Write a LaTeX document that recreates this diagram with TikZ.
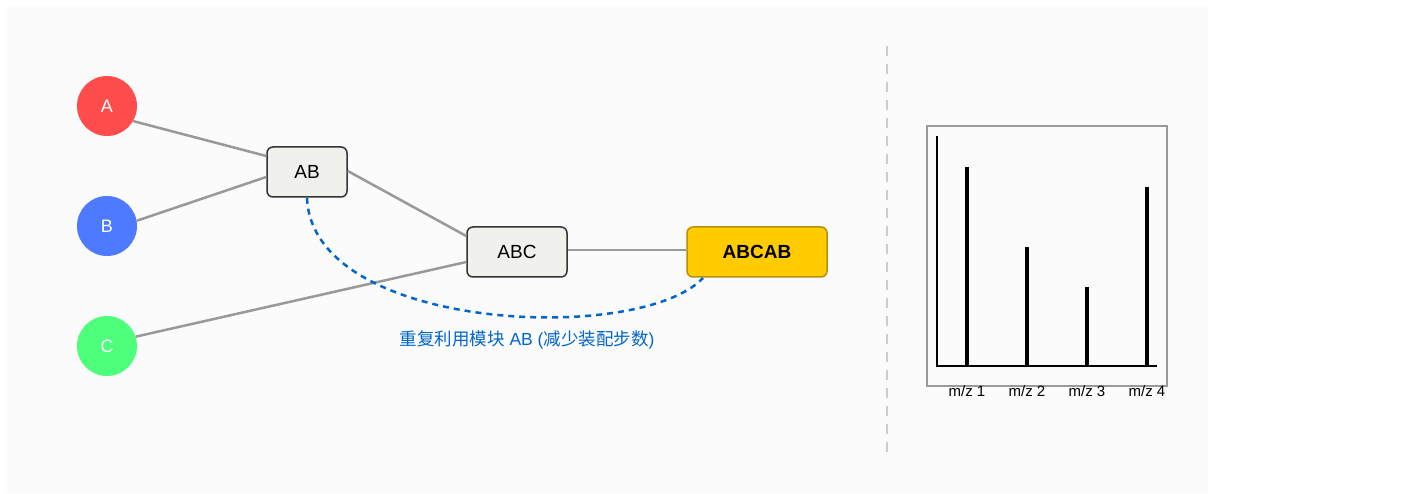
\documentclass[tikz,border=0pt]{standalone}
\usepackage{fontspec}
\setmainfont{Liberation Sans}
\newfontfamily\cjk{Noto Sans CJK SC}
\definecolor{bgc}{HTML}{FBFBFB}
\definecolor{redc}{HTML}{FF4D4D}
\definecolor{bluec}{HTML}{4D7AFF}
\definecolor{greenc}{HTML}{4DFF7A}
\definecolor{boxfill}{HTML}{F0F0EC}
\definecolor{boxdraw}{HTML}{333333}
\definecolor{goldc}{HTML}{FFCC00}
\definecolor{goldd}{HTML}{B8900A}
\definecolor{linec}{HTML}{999999}
\definecolor{reuse}{HTML}{0066CC}
\definecolor{divc}{HTML}{CCCCCC}
\begin{document}
\begin{tikzpicture}[x=1pt,y=-1pt,
  atom/.style={circle,minimum size=60pt,inner sep=0pt,text=white,font=\fontsize{18}{20}\selectfont},
  frag/.style={draw=boxdraw,fill=boxfill,rounded corners=6pt,line width=1.5pt,minimum width=80pt,minimum height=50pt,inner sep=0pt,font=\fontsize{19}{22}\selectfont},
  link/.style={draw=linec,line width=2.5pt},
  peak/.style={line width=4pt},
  mzlab/.style={font=\fontsize{15}{17}\selectfont,inner sep=0pt}]
\useasboundingbox (0,0) rectangle (1413,494);
\fill[bgc] (7,6) rectangle (1208,493);
% atoms
\node[atom,fill=redc] (A) at (107,106) {\raisebox{-2pt}{A}};
\node[atom,fill=bluec] (B) at (107,226) {\raisebox{-2pt}{B}};
\node[atom,fill=greenc] (C) at (107,346) {\raisebox{-2pt}{C}};
% fragments
\node[frag] (AB) at (307,172) {AB};
\node[frag,minimum width=100pt] (ABC) at (517,252) {ABC};
\node[frag,minimum width=140pt,fill=goldc,draw=goldd,font=\fontsize{19}{22}\selectfont\bfseries] (ABCAB) at (757,252) {ABCAB};
% links
\draw[link] (A.-30) -- (AB.west |- 0,156);
\draw[link] (B.10) -- (AB.west |- 0,177);
\draw[link] (AB.east |- 0,171) -- (ABC.west |- 0,236);
\draw[link] (C.18) -- (ABC.west |- 0,262);
\draw[link] (ABC.east |- 0,250) -- (ABCAB.west |- 0,250);
% reuse curve
\coordinate (reuseEnd) at (703,278);
\draw[reuse,line width=2.5pt,dash pattern=on 6pt off 5pt] (AB.south) .. controls (312,332) and (640,345) .. (reuseEnd);
\node[text=reuse,font=\fontsize{17.5}{20}\selectfont,inner sep=0pt] (lbl) at (527,340) {{\cjk 重复利用模块} AB ({\cjk 减少装配步数})};
% divider
\coordinate (d1) at (887,46);
\coordinate (d2) at (887,457);
\draw[divc,line width=2pt,dash pattern=on 10pt off 8pt] (d1) -- (d2);
% spectrum
\node[draw=linec,line width=2pt,minimum width=240pt,minimum height=260pt,inner sep=0pt] (spec) at (1047,256) {};
\coordinate (o) at (937,366);
\coordinate (ytop) at (937,136);
\coordinate (xend) at (1157,366);
\draw[line width=1.8pt] (ytop) -- (o) -- (xend);
\coordinate (p1) at (967,167);
\coordinate (p2) at (1027,247);
\coordinate (p3) at (1087,287);
\coordinate (p4) at (1147,187);
\draw[peak] (p1) -- (p1 |- o);
\draw[peak] (p2) -- (p2 |- o);
\draw[peak] (p3) -- (p3 |- o);
\draw[peak] (p4) -- (p4 |- o);
\node[mzlab] (m1) at (967,391) {m/z 1};
\node[mzlab] (m2) at (1027,391) {m/z 2};
\node[mzlab] (m3) at (1087,391) {m/z 3};
\node[mzlab] (m4) at (1147,391) {m/z 4};
\end{tikzpicture}
\end{document}
